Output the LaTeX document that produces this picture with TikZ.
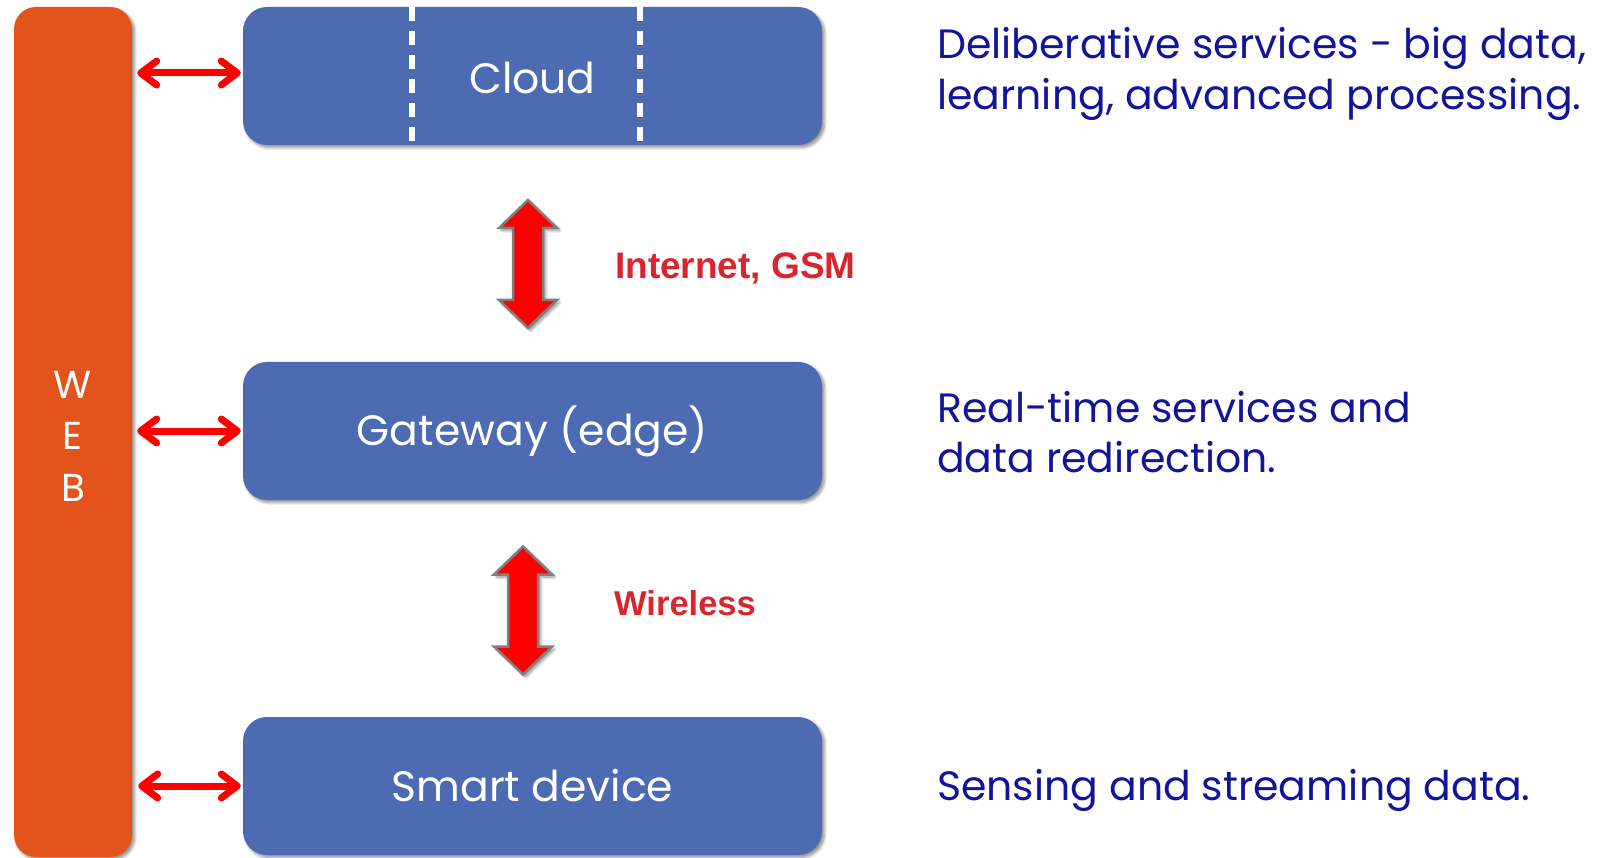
\documentclass[tikz,border=0pt]{standalone}
\usepackage{fontspec}
\setmainfont{Poppins}
\newfontfamily\mediumfont{Liberation Sans}
\usetikzlibrary{arrows.meta,shadows.blur}

\definecolor{webOrange}{HTML}{E2541B}
\definecolor{tierBlue}{HTML}{4D6BB3}
\definecolor{noteNavy}{HTML}{14149A}
\definecolor{mediumRed}{HTML}{D8262F}
\definecolor{arrowRed}{HTML}{FF0000}
\definecolor{arrowEdge}{HTML}{7F7F7F}

\tikzset{
  softshadow/.style={blur shadow={shadow xshift=2.5pt, shadow yshift=-2.5pt,
      shadow blur steps=6, shadow blur radius=3pt, shadow opacity=45}},
  tier/.style={fill=tierBlue, rounded corners=24pt, minimum width=579pt,
      minimum height=138pt, inner sep=0pt, text=white,
      font=\fontsize{42.5}{50}\selectfont, softshadow},
  webbar/.style={fill=webOrange, rounded corners=22pt, minimum width=118pt,
      minimum height=850pt, inner sep=0pt, text=white, align=center,
      font=\fontsize{39}{51.5}\selectfont, softshadow},
  note/.style={text=noteNavy, anchor=base west, inner sep=0pt,
      font=\fontsize{41}{48}\selectfont},
  medium/.style={text=mediumRed, anchor=base west, inner sep=0pt},
  link/.style={draw=arrowRed, line width=7pt,
      {Straight Barb[length=16pt, width=24pt, round]}-{Straight Barb[length=16pt, width=24pt, round]}},
  divider/.style={draw=white, line width=6pt, dash pattern=on 14pt off 10pt},
  pics/bigarrow/.style={code={
    \filldraw[fill=arrowRed, draw=arrowEdge, line width=2.5pt, softshadow]
      (0,-64) -- (29,-36) -- (15,-36) -- (15,36) -- (29,36) -- (0,64)
      -- (-29,36) -- (-15,36) -- (-15,-36) -- (-29,-36) -- cycle;
  }}
}

\begin{document}
\begin{tikzpicture}[x=1pt, y=-1pt]
  \useasboundingbox (0,0) rectangle (1606,858);

  % web column
  \node[webbar] (web) at (73,432) {};
  \node[text=white, align=center, font=\fontsize{39}{51.5}\selectfont] (weblabel)
    at (73,436) {W\\E\\B};

  % the three tiers
  \node[tier] (cloud) at (532.5,76) {};
  \draw[divider] (412,7) -- (412,145);
  \draw[divider] (640,7) -- (640,145);
  \node[text=white, font=\fontsize{42.5}{50}\selectfont] (cloudlabel) at (532.5,78) {Cloud};
  \node[tier] (gate) at (532.5,431) {Gateway (edge)};
  \node[tier] (device) at (532.5,786) {Smart device};

  % links to the web column
  \draw[link, shorten <=5pt, shorten >=2pt] (web.east |- 0,73) -- (cloud.west |- 0,73);
  \draw[link, shorten <=5pt, shorten >=2pt] (web.east |- gate.west) -- (gate.west);
  \draw[link, shorten <=6pt, shorten >=2pt] (web.east |- device.west) -- (device.west);

  % links between tiers
  \pic at (528,264) {bigarrow};
  \pic at (523,610.5) {bigarrow};
  \node[medium, font=\mediumfont\bfseries\fontsize{37}{44}\selectfont] (inet) at (615,279) {Internet, GSM};
  \node[medium, font=\mediumfont\bfseries\fontsize{34.5}{41}\selectfont] (wless) at (614,615) {Wireless};

  % tier descriptions
  \node[note] (cloudnoteA) at (937,59) {Deliberative services - big data,};
  \node[note] (cloudnoteB) at (937,110) {learning, advanced processing.};
  \node[note] (gatenoteA) at (937,422) {Real-time services and};
  \node[note] (gatenoteB) at (937,472) {data redirection.};
  \node[note] (devicenote) at (937,800) {Sensing and streaming data.};
\end{tikzpicture}
\end{document}
